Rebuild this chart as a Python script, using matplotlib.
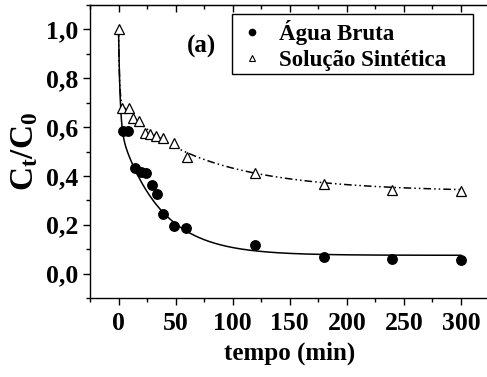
import numpy as np
import matplotlib
matplotlib.use('Agg')
import matplotlib.pyplot as plt
from matplotlib.ticker import MultipleLocator, FuncFormatter
from matplotlib.lines import Line2D
from matplotlib.patches import Rectangle

plt.rcParams['font.family'] = ['Liberation Serif', 'DejaVu Serif']
plt.rcParams['font.weight'] = 'bold'
plt.rcParams['mathtext.fontset'] = 'custom'
plt.rcParams['mathtext.rm'] = 'Liberation Serif:bold'
plt.rcParams['mathtext.bf'] = 'Liberation Serif:bold'

# Água Bruta (measured points; t=0 hidden under the triangle)
t_agua = [4, 8, 14, 20, 24, 29, 34, 39, 49, 59, 120, 180, 240, 300]
c_agua = [0.584, 0.584, 0.432, 0.417, 0.41, 0.362, 0.325, 0.246,
          0.193, 0.188, 0.118, 0.067, 0.058, 0.056]

# Solução Sintética (measured points)
t_sint = [0, 3, 9, 13, 18, 23, 28, 33, 39, 49, 60, 120, 180, 240, 300]
c_sint = [1.0, 0.68, 0.677, 0.636, 0.623, 0.577, 0.572, 0.564, 0.557,
          0.536, 0.479, 0.413, 0.369, 0.344, 0.339]

# fitted kinetic curves: c_inf + sum(A * exp(-t/tau))
fit_agua = (0.075, [(0.399, 1.4), (0.526, 35.6)])
fit_sint = (0.335, [(0.292, 0.8), (0.066, 29.7), (0.307, 85.0)])


def model(t, params):
    cinf, terms = params
    y = np.full_like(t, cinf)
    for a, tau in terms:
        y = y + a * np.exp(-t / tau)
    return y


tt = np.linspace(0, 300, 600)

fig = plt.figure(figsize=(4.87, 3.77), dpi=100)
ax = fig.add_axes([0.1848, 0.2095, 0.8203, 0.7772])

ax.plot(tt, model(tt, fit_agua), color='black', lw=1.1)
ax.plot(tt, model(tt, fit_sint), color='black', lw=1.1,
        dashes=(5, 2, 1, 2, 1, 2))
ax.plot(t_agua, c_agua, 'o', color='black', ms=6.8, ls='none')
ax.plot(t_sint, c_sint, '^', mfc='white', mec='black', mew=0.9, ms=7.5,
        ls='none')

ax.set_xlim(-25, 325)
ax.set_ylim(-0.1, 1.1)
ax.xaxis.set_major_locator(MultipleLocator(50))
ax.xaxis.set_minor_locator(MultipleLocator(25))
ax.yaxis.set_major_locator(MultipleLocator(0.2))
ax.yaxis.set_minor_locator(MultipleLocator(0.1))
ax.yaxis.set_major_formatter(FuncFormatter(lambda v, p: ('%.1f' % v).replace('.', ',').replace('-0,0', '0,0')))

ax.tick_params(which='both', direction='out', labelsize=18.5)
ax.tick_params(which='major', length=5, width=1)
ax.tick_params(which='minor', length=3, width=1)
ax.tick_params(axis='x', pad=5)
for s in ax.spines.values():
    s.set_linewidth(1.0)

# top ticks point inward
top = ax.secondary_xaxis('top')
top.xaxis.set_major_locator(MultipleLocator(50))
top.xaxis.set_minor_locator(MultipleLocator(25))
top.tick_params(which='both', direction='in', labeltop=False)
top.tick_params(which='major', length=5, width=1)
top.tick_params(which='minor', length=3, width=1)

ax.set_xlabel('tempo (min)', fontsize=18, fontweight='bold', labelpad=5)
ax.set_ylabel(r'$\mathbf{C_t/C_0}$', fontsize=24, labelpad=4)

ax.text(72.5, 0.93, '(a)', fontsize=18, fontweight='bold',
        ha='center', va='center')

# legend box (wider than its contents, as in the original)
ax.add_patch(Rectangle((0.3554, 0.7645), 0.6033, 0.2048, transform=ax.transAxes,
                       fill=True, facecolor='white', edgecolor='black',
                       lw=1.0, zorder=4))
handles = [
    Line2D([], [], marker='o', color='black', ls='none', ms=4.5),
    Line2D([], [], marker='^', mfc='white', mec='black', ls='none', ms=5, mew=0.8),
]
leg = ax.legend(handles, ['Água Bruta', 'Solução Sintética'],
                loc='upper left', bbox_to_anchor=(0.365, 0.965),
                fontsize=16.5, frameon=False,
                handlelength=1.0, handletextpad=0.7, borderpad=0.2,
                labelspacing=0.22, borderaxespad=0)
leg.set_zorder(5)

fig.savefig('out.png', dpi=100)
